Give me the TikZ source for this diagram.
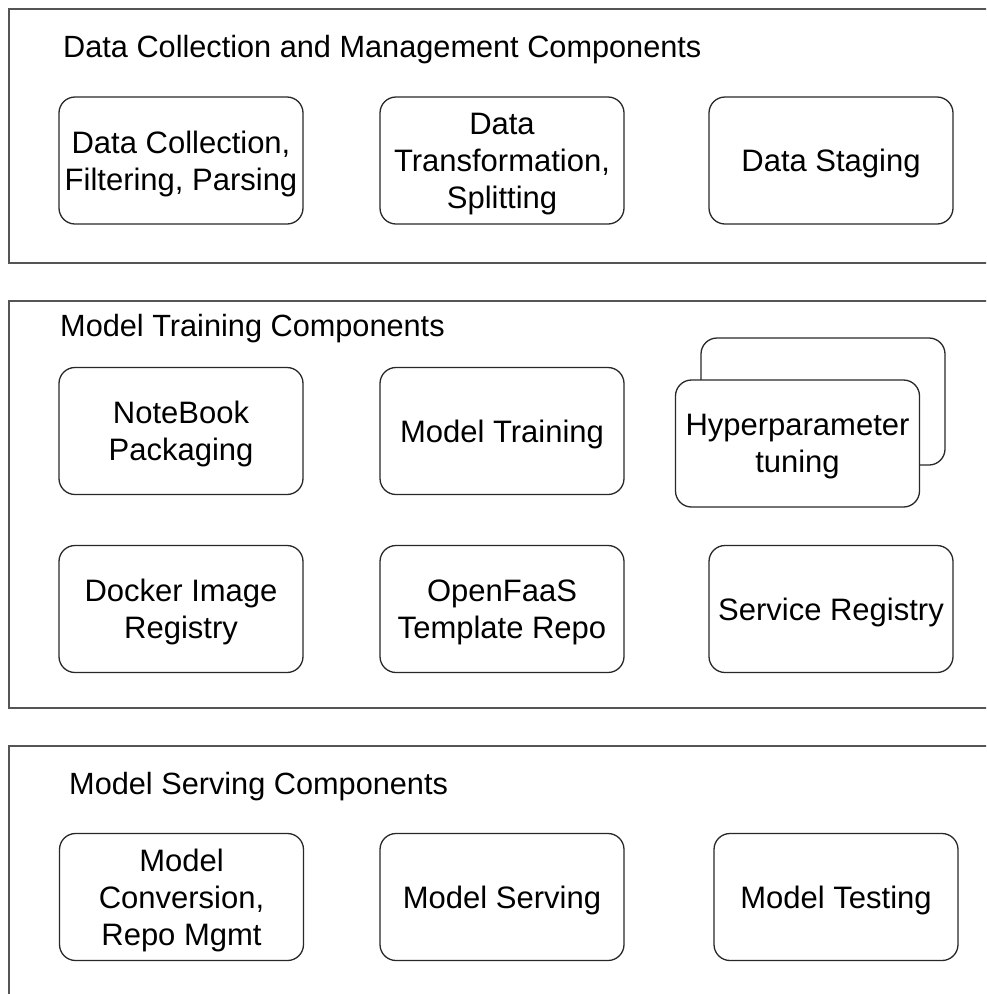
\documentclass[tikz,border=0pt]{standalone}
\usepackage{fontspec}
\setmainfont{Liberation Sans}
\usepackage{tikz}
\definecolor{panelgray}{RGB}{85,85,85}
\definecolor{boxline}{RGB}{40,40,40}

\begin{document}
\begin{tikzpicture}[x=1pt, y=-1pt,
  box/.style={rectangle, draw=boxline, line width=1.3pt, rounded corners=16pt, minimum width=244pt, minimum height=127pt, inner sep=0pt, text depth=0pt, align=center, fill=white, font=\fontsize{31}{37}\selectfont},
  layer/.style={rectangle, draw=panelgray, line width=1.8pt, anchor=north west, minimum width=1010pt, inner sep=0pt},
  title/.style={anchor=base west, inner sep=0pt, font=\fontsize{30.7}{36}\selectfont}
]
\useasboundingbox (0,0) rectangle (986,994);
\clip (0,0) rectangle (986,994);

% Data collection layer
\node[layer, minimum height=254pt] (dcm) at (8, 8) {};
\node[title] (dcmtitle) at (63, 57) {Data Collection and Management Components};

\node[box] (collect) at (181, 160.5) {Data Collection,\\Filtering, Parsing};
\node[box] (transform) at (502, 160.5) {Data\\Transformation,\\Splitting};
\node[box] (staging) at (831, 160.5) {Data Staging};

% Model training layer
\node[layer, minimum height=407pt] (mtc) at (8, 300) {};
\node[title] (mtctitle) at (60, 336) {Model Training Components};

\node[box] (notebook) at (181, 431) {NoteBook\\Packaging};
\node[box] (training) at (502, 431) {Model Training};
\node[box] (hpback) at (823, 401.5) {};
\node[box] (hptuning) at (797.5, 443.5) {Hyperparameter\\tuning};

\node[box] (docker) at (181, 609) {Docker Image\\Registry};
\node[box] (openfaas) at (502, 609) {OpenFaaS\\Template Repo};
\node[box] (registry) at (831, 609) {Service Registry};

% Model serving layer
\node[layer, minimum height=300pt] (msc) at (8, 745) {};
\node[title] (msctitle) at (69, 794) {Model Serving Components};

\node[box] (conversion) at (181.5, 897) {Model\\Conversion,\\Repo Mgmt};
\node[box] (serving) at (502, 897) {Model Serving};
\node[box] (testing) at (836, 897) {Model Testing};

\end{tikzpicture}
\end{document}
